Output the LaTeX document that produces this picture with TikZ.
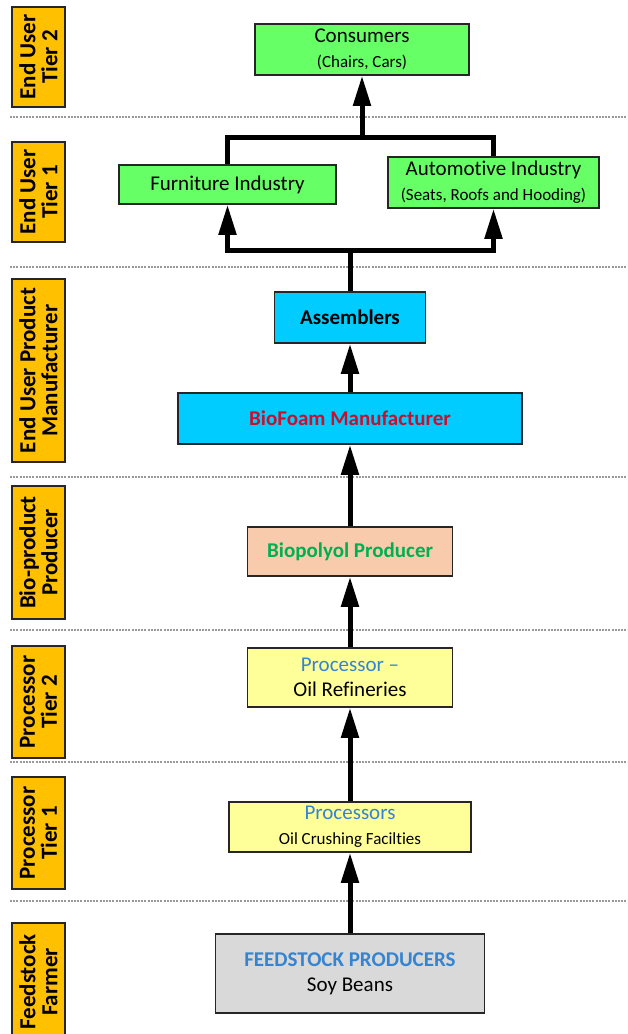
\documentclass[tikz,border=0pt]{standalone}
\usepackage{fontspec}
\setmainfont{Carlito}[Ligatures=NoCommon]
\usetikzlibrary{arrows.meta}

\definecolor{tierorange}{RGB}{255,192,0}
\definecolor{enduser}{RGB}{102,255,102}
\definecolor{maker}{RGB}{0,204,255}
\definecolor{peach}{RGB}{248,203,173}
\definecolor{paleyellow}{RGB}{255,255,153}
\definecolor{palegray}{RGB}{217,217,217}
\definecolor{foamred}{RGB}{200,16,46}
\definecolor{polygreen}{RGB}{0,176,80}
\definecolor{procblue}{RGB}{52,132,210}

\newcommand{\subline}[1]{{\fontsize{17}{20}\selectfont #1}}

\begin{document}
\begin{tikzpicture}[x=1pt,y=-1pt,
  tier/.style={draw=black!85, line width=1.5pt, fill=tierorange, rotate=90,
    align=center, inner sep=0pt, minimum height=53pt,
    font=\fontsize{23}{22}\selectfont\bfseries},
  stage/.style={draw=black!85, line width=1.5pt, align=center, inner sep=0pt,
    font=\fontsize{21}{25}\selectfont},
  sep/.style={black!40, line width=1.3pt, dash pattern=on 2pt off 1.2pt},
  flow/.style={line width=5pt, -{Triangle[length=30pt,width=17pt]}},
  bar/.style={line width=5pt},
]
\useasboundingbox[fill=white] (0,0) rectangle (628,1034);

% tier separators
\foreach \yy in {117,267,477,630,762,901}
  \draw[sep] (10,\yy) -- (628,\yy);

% tier labels on the left
\node[tier, minimum width=100pt] (tEU2) at (38.5,57) {End User\\Tier 2};
\node[tier, minimum width=100pt] (tEU1) at (38.5,192) {End User\\Tier 1};
\node[tier, minimum width=183pt] (tEUPM) at (38.5,370.5) {End User Product\\Manufacturer};
\node[tier, minimum width=133pt] (tBP) at (38.5,552.5) {Bio-product\\Producer};
\node[tier, minimum width=112pt] (tP2) at (38.5,702) {Processor\\Tier 2};
\node[tier, minimum width=112pt] (tP1) at (38.5,833) {Processor\\Tier 1};
\begin{scope}
  \clip (0,0) rectangle (628,1034);
  \node[tier, minimum width=118pt] (tFF) at (38.5,982) {Feedstock\\Farmer};
\end{scope}

% supply chain stages
\node[stage, fill=enduser, minimum width=214pt, minimum height=51pt] (cons) at (362,49.5)
  {Consumers\\\subline{(Chairs, Cars)}};
\node[stage, fill=enduser, minimum width=217pt, minimum height=39pt] (furn) at (227.5,184.5)
  {Furniture Industry};
\node[stage, fill=enduser, minimum width=211pt, minimum height=51pt] (auto) at (493.5,182.5)
  {Automotive Industry\\\subline{(Seats, Roofs and Hooding)}};
\node[stage, fill=maker, minimum width=151pt, minimum height=51pt,
  font=\fontsize{21}{25}\selectfont\bfseries] (asm) at (350,317.5) {Assemblers};
\node[stage, fill=maker, minimum width=344pt, minimum height=51pt,
  font=\fontsize{21}{25}\selectfont\bfseries, text=foamred] (foam) at (350,418.5)
  {BioFoam Manufacturer};
\node[stage, fill=peach, minimum width=205pt, minimum height=49pt,
  font=\fontsize{21}{25}\selectfont\bfseries, text=polygreen] (poly) at (350,551.5)
  {Biopolyol Producer};
\node[stage, fill=paleyellow, minimum width=205pt, minimum height=59pt] (refi) at (350,677.5)
  {\textcolor{procblue}{Processor –}\\Oil Refineries};
\node[stage, fill=paleyellow, minimum width=242pt, minimum height=50pt] (crush) at (350,827)
  {\textcolor{procblue}{Processors}\\\subline{Oil Crushing Facilties}};
\node[stage, fill=palegray, minimum width=269pt, minimum height=79pt] (feed) at (350,973.5)
  {\textcolor{procblue}{\bfseries FEEDSTOCK PRODUCERS}\\Soy Beans};

% flows up the chain
\draw[flow] (feed) -- (crush);
\draw[flow] (crush) -- (refi);
\draw[flow] (refi) -- (poly);
\draw[flow] (poly) -- (foam);
\draw[flow] (foam) -- (asm);

\coordinate (split) at (350,250);
\draw[bar] (asm.north) -- (split);
\draw[flow] (split) -| (furn.south);
\draw[flow] (split) -| (auto.south);

\coordinate (merge) at (362,137);
\draw[bar] (furn.north) |- (merge) -| (auto.north);
\draw[flow] (merge) -- (cons.south);
\end{tikzpicture}
\end{document}
